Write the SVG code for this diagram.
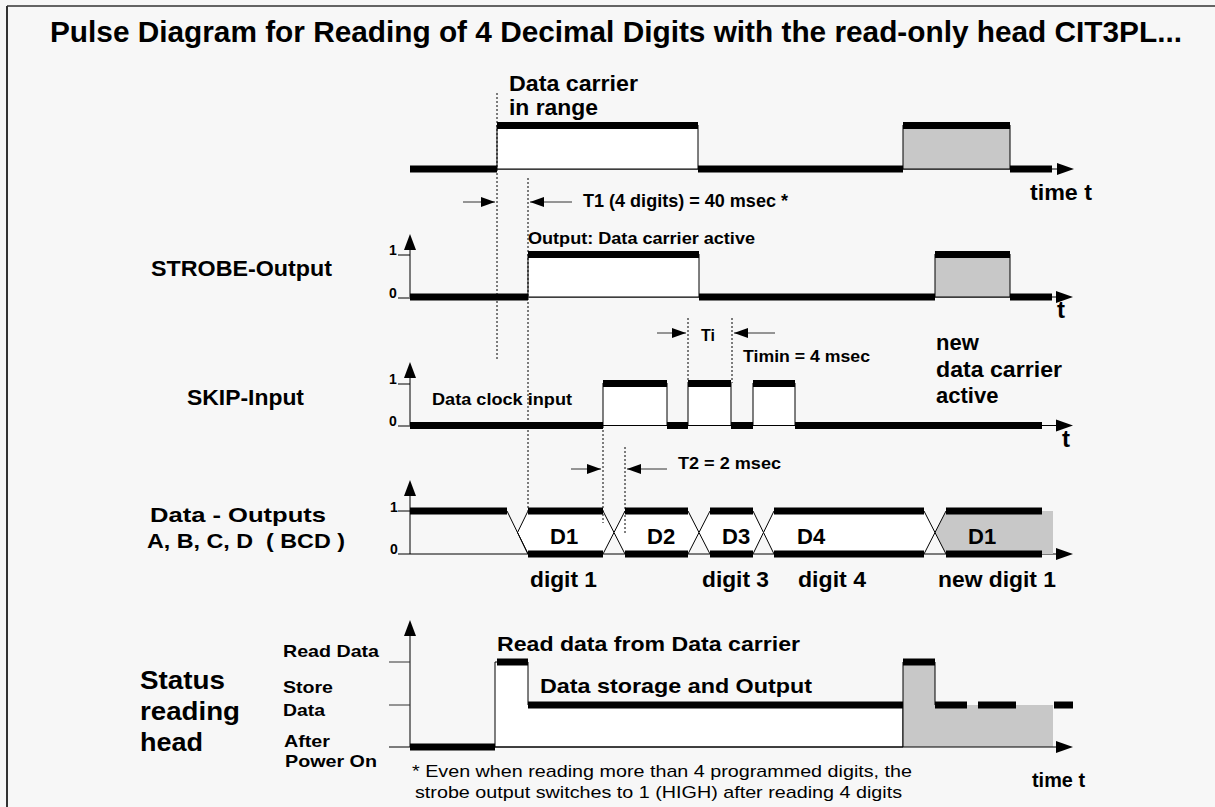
<svg xmlns="http://www.w3.org/2000/svg" width="1215" height="807" viewBox="0 0 1215 807">
<style>
.bg{fill:#f7f7f7}
.frame{stroke:#333;fill:none}
.thick{stroke:#000;stroke-width:7;fill:none}
.thin{stroke:#000;stroke-width:1;fill:none}
.dim{stroke:#333;stroke-width:1;fill:none}
.dot{stroke:#000;stroke-width:1;stroke-dasharray:2 2;fill:none}
.box{fill:#fff;stroke:#000;stroke-width:1}
.gfill{fill:#c8c8c8;stroke:none}
.gbox{fill:#c8c8c8;stroke:#000;stroke-width:1}
.wfill{fill:#fff;stroke:none}
.ah{fill:#000;stroke:none}
text{font-family:"Liberation Sans",Arial,Helvetica,sans-serif;fill:#000}
.b{font-weight:bold}
.ax{font-weight:bold;font-size:14px}
</style>
<defs>
<marker id="dimArrow" viewBox="0 0 14 10" refX="14" refY="5" markerWidth="14" markerHeight="10" markerUnits="userSpaceOnUse" orient="auto">
<path d="M0,0 L14,5 L0,10 Z" fill="#000"/>
</marker>
</defs>
<rect class="bg" x="0" y="0" width="1215" height="807"/>
<line class="frame" x1="7" y1="6" x2="1215" y2="6" stroke-width="1.5"/>
<line class="frame" x1="7" y1="6" x2="7" y2="807" stroke-width="2"/>

<g id="title">
<text class="b" x="50" y="42" font-size="30" textLength="1132" lengthAdjust="spacingAndGlyphs">Pulse Diagram for Reading of 4 Decimal Digits with the read-only head CIT3PL...</text>
</g>

<g id="sig-carrier">
<text class="b" x="509" y="91" font-size="22" textLength="129" lengthAdjust="spacingAndGlyphs">Data carrier</text>
<text class="b" x="509" y="115" font-size="22" textLength="89" lengthAdjust="spacingAndGlyphs">in range</text>
<line class="thin" x1="410" y1="169" x2="1058" y2="169"/>
<rect class="box" x="497" y="125.5" width="201" height="43.5"/>
<rect class="gbox" x="903" y="125.5" width="107" height="43.5"/>
<line class="thick" x1="410" y1="169" x2="497" y2="169"/>
<line class="thick" x1="497" y1="125.5" x2="698" y2="125.5"/>
<line class="thick" x1="698" y1="169" x2="903" y2="169"/>
<line class="thick" x1="903" y1="125.5" x2="1010" y2="125.5"/>
<line class="thick" x1="1010" y1="169" x2="1052" y2="169"/>
<polygon class="ah" points="1074,169 1057,163 1057,175"/>
<text class="b" x="1030" y="200" font-size="22" textLength="62" lengthAdjust="spacingAndGlyphs">time t</text>
</g>

<g id="sig-strobe">
<text class="b" x="151" y="276" font-size="22" textLength="181" lengthAdjust="spacingAndGlyphs">STROBE-Output</text>
<text class="b" x="528" y="244" font-size="16" textLength="227" lengthAdjust="spacingAndGlyphs">Output: Data carrier active</text>
<line class="thin" x1="410" y1="297" x2="410" y2="248"/>
<polygon class="ah" points="410,234 404,250 416,250"/>
<text class="ax" x="389" y="255">1</text>
<line class="thin" x1="398" y1="255" x2="410" y2="255"/>
<text class="ax" x="389" y="298">0</text>
<line class="thin" x1="398" y1="298" x2="410" y2="298"/>
<line class="thin" x1="410" y1="297" x2="1058" y2="297"/>
<rect class="box" x="528" y="254.5" width="171" height="42.5"/>
<rect class="gbox" x="935" y="254.5" width="75" height="42.5"/>
<line class="thick" x1="410" y1="297" x2="528" y2="297"/>
<line class="thick" x1="528" y1="254.5" x2="699" y2="254.5"/>
<line class="thick" x1="699" y1="297" x2="935" y2="297"/>
<line class="thick" x1="935" y1="254.5" x2="1010" y2="254.5"/>
<line class="thick" x1="1010" y1="297" x2="1052" y2="297"/>
<polygon class="ah" points="1073,297 1056,291 1056,303"/>
<text class="b" x="1057" y="318" font-size="24">t</text>
</g>

<g id="sig-skip">
<text class="b" x="187" y="405" font-size="22" textLength="117" lengthAdjust="spacingAndGlyphs">SKIP-Input</text>
<text class="b" x="432" y="405" font-size="17" textLength="140" lengthAdjust="spacingAndGlyphs">Data clock input</text>
<line class="thin" x1="410" y1="425.5" x2="410" y2="376"/>
<polygon class="ah" points="410,362 404,378 416,378"/>
<text class="ax" x="389" y="384">1</text>
<line class="thin" x1="398" y1="384" x2="410" y2="384"/>
<text class="ax" x="389" y="426">0</text>
<line class="thin" x1="398" y1="426" x2="410" y2="426"/>
<line class="thin" x1="410" y1="425.5" x2="1058" y2="425.5"/>
<rect class="box" x="603" y="383.5" width="64" height="42"/>
<rect class="box" x="688" y="383.5" width="43" height="42"/>
<rect class="box" x="753" y="383.5" width="42" height="42"/>
<line class="thick" x1="410" y1="425.5" x2="603" y2="425.5"/>
<line class="thick" x1="603" y1="383.5" x2="667" y2="383.5"/>
<line class="thick" x1="667" y1="425.5" x2="688" y2="425.5"/>
<line class="thick" x1="688" y1="383.5" x2="731" y2="383.5"/>
<line class="thick" x1="731" y1="425.5" x2="753" y2="425.5"/>
<line class="thick" x1="753" y1="383.5" x2="795" y2="383.5"/>
<line class="thick" x1="795" y1="425.5" x2="1042" y2="425.5"/>
<polygon class="ah" points="1073,425.5 1056,419.5 1056,431.5"/>
<text class="b" x="1062" y="447" font-size="24">t</text>
<text class="b" x="936" y="350" font-size="22">new</text>
<text class="b" x="936" y="377" font-size="22" textLength="126" lengthAdjust="spacingAndGlyphs">data carrier</text>
<text class="b" x="936" y="403" font-size="22">active</text>
</g>

<g id="sig-data">
<text class="b" x="150" y="522" font-size="21" textLength="176" lengthAdjust="spacingAndGlyphs">Data - Outputs</text>
<text class="b" x="147" y="548" font-size="21" textLength="198" lengthAdjust="spacingAndGlyphs">A, B, C, D &#160;( BCD )</text>
<line class="thin" x1="410" y1="554" x2="410" y2="494"/>
<polygon class="ah" points="410,480 404,496 416,496"/>
<text class="ax" x="390" y="512">1</text>
<line class="thin" x1="398" y1="511" x2="410" y2="511"/>
<text class="ax" x="390" y="554">0</text>
<line class="thin" x1="398" y1="554" x2="410" y2="554"/>
<line class="thin" x1="410" y1="554" x2="1058" y2="554"/>
<polygon class="gfill" points="935,532.5 946,511 1053,511 1053,554 946,554"/>
<polygon class="box" points="517.5,532.5 528,511 603,511 614,532.5 603,554 528,554"/>
<polygon class="box" points="614,532.5 625,511 688,511 699,532.5 688,554 625,554"/>
<polygon class="box" points="699,532.5 710,511 753,511 763.5,532.5 753,554 710,554"/>
<polygon class="box" points="763.5,532.5 774,511 924,511 935,532.5 924,554 774,554"/>
<polyline class="thin" points="946,511 935,532.5 946,554"/>
<line class="thin" x1="507" y1="511" x2="528" y2="554"/>
<line class="thick" x1="410" y1="511" x2="507" y2="511"/>
<line class="thick" x1="528" y1="511" x2="603" y2="511"/>
<line class="thick" x1="625" y1="511" x2="688" y2="511"/>
<line class="thick" x1="710" y1="511" x2="753" y2="511"/>
<line class="thick" x1="774" y1="511" x2="924" y2="511"/>
<line class="thick" x1="946" y1="511" x2="1042" y2="511"/>
<line class="thick" x1="528" y1="554" x2="603" y2="554"/>
<line class="thick" x1="625" y1="554" x2="688" y2="554"/>
<line class="thick" x1="710" y1="554" x2="753" y2="554"/>
<line class="thick" x1="774" y1="554" x2="924" y2="554"/>
<line class="thick" x1="946" y1="554" x2="1042" y2="554"/>
<polygon class="ah" points="1073,554 1056,548 1056,560"/>
<text class="b" x="550" y="544" font-size="22">D1</text>
<text class="b" x="647" y="544" font-size="22">D2</text>
<text class="b" x="722" y="544" font-size="22">D3</text>
<text class="b" x="797" y="544" font-size="22">D4</text>
<text class="b" x="968" y="544" font-size="22">D1</text>
<text class="b" x="530" y="587" font-size="22" textLength="67" lengthAdjust="spacingAndGlyphs">digit 1</text>
<text class="b" x="702" y="587" font-size="22" textLength="67" lengthAdjust="spacingAndGlyphs">digit 3</text>
<text class="b" x="798" y="587" font-size="22" textLength="68" lengthAdjust="spacingAndGlyphs">digit 4</text>
<text class="b" x="938" y="587" font-size="22" textLength="118" lengthAdjust="spacingAndGlyphs">new digit 1</text>
</g>

<g id="sig-status">
<text class="b" x="140" y="689" font-size="26" textLength="85" lengthAdjust="spacingAndGlyphs">Status</text>
<text class="b" x="140" y="720" font-size="26" textLength="100" lengthAdjust="spacingAndGlyphs">reading</text>
<text class="b" x="140" y="751" font-size="26" textLength="63" lengthAdjust="spacingAndGlyphs">head</text>
<text class="b" x="283" y="657" font-size="17" textLength="96" lengthAdjust="spacingAndGlyphs">Read Data</text>
<text class="b" x="283" y="693" font-size="17" textLength="50" lengthAdjust="spacingAndGlyphs">Store</text>
<text class="b" x="283" y="716" font-size="17" textLength="42" lengthAdjust="spacingAndGlyphs">Data</text>
<text class="b" x="284" y="747" font-size="17" textLength="46" lengthAdjust="spacingAndGlyphs">After</text>
<text class="b" x="285" y="767" font-size="17" textLength="92" lengthAdjust="spacingAndGlyphs">Power On</text>
<line class="thin" x1="410" y1="747" x2="410" y2="634"/>
<polygon class="ah" points="410,620 404,636 416,636"/>
<line class="dim" x1="389" y1="662" x2="410" y2="662"/>
<line class="dim" x1="389" y1="705" x2="410" y2="705"/>
<polygon class="box" points="495,747 495,662 528,662 528,705 903,705 903,747"/>
<polygon class="gfill" points="903,747 903,662 935,662 935,705 1053,705 1053,747"/>
<polyline class="thin" points="903,747 903,662 935,662 935,705"/>
<line class="thin" x1="389" y1="747" x2="1058" y2="747"/>
<line class="thick" x1="410" y1="747" x2="495" y2="747"/>
<line class="thick" x1="497" y1="662" x2="528" y2="662"/>
<line class="thick" x1="528" y1="705" x2="903" y2="705"/>
<line class="thick" x1="903" y1="662" x2="935" y2="662"/>
<line class="thick" x1="935" y1="705" x2="967" y2="705"/>
<line class="thick" x1="978" y1="705" x2="1016" y2="705"/>
<line class="thick" x1="1054" y1="705" x2="1073" y2="705"/>
<polygon class="ah" points="1073,747 1056,741 1056,753"/>
<text class="b" x="497" y="651" font-size="21" textLength="303" lengthAdjust="spacingAndGlyphs">Read data from Data carrier</text>
<text class="b" x="540" y="693" font-size="21" textLength="272" lengthAdjust="spacingAndGlyphs">Data storage and Output</text>
<text class="b" x="1032" y="787" font-size="20" textLength="53" lengthAdjust="spacingAndGlyphs">time t</text>
</g>

<g id="footnote">
<text x="412" y="777" font-size="17" textLength="500" lengthAdjust="spacingAndGlyphs">* Even when reading more than 4 programmed digits, the</text>
<text x="415" y="798" font-size="17" textLength="487" lengthAdjust="spacingAndGlyphs">strobe output switches to 1 (HIGH) after reading 4 digits</text>
</g>

<g id="connectors">
<line class="dot" x1="497" y1="93" x2="497" y2="361"/>
<line class="dot" x1="528" y1="178" x2="528" y2="511"/>
<line class="dot" x1="603" y1="426" x2="603" y2="523"/>
<line class="dot" x1="625" y1="447" x2="625" y2="533"/>
<line class="dot" x1="688" y1="318" x2="688" y2="383"/>
<line class="dot" x1="732" y1="318" x2="732" y2="383"/>
<line class="dim" x1="463" y1="202" x2="495" y2="202" marker-end="url(#dimArrow)"/>
<line class="dim" x1="572" y1="202" x2="530" y2="202" marker-end="url(#dimArrow)"/>
<text class="b" x="583" y="207" font-size="19" textLength="205" lengthAdjust="spacingAndGlyphs">T1 (4 digits) = 40 msec *</text>
<line class="dim" x1="657" y1="333" x2="686" y2="333" marker-end="url(#dimArrow)"/>
<line class="dim" x1="775" y1="333" x2="734" y2="333" marker-end="url(#dimArrow)"/>
<text class="b" x="701" y="341" font-size="16">Ti</text>
<text class="b" x="743" y="362" font-size="17" textLength="127" lengthAdjust="spacingAndGlyphs">Timin = 4 msec</text>
<line class="dim" x1="571" y1="469" x2="601" y2="469" marker-end="url(#dimArrow)"/>
<line class="dim" x1="667" y1="469" x2="627" y2="469" marker-end="url(#dimArrow)"/>
<text class="b" x="678" y="469" font-size="17" textLength="103" lengthAdjust="spacingAndGlyphs">T2 = 2 msec</text>
</g>
</svg>
